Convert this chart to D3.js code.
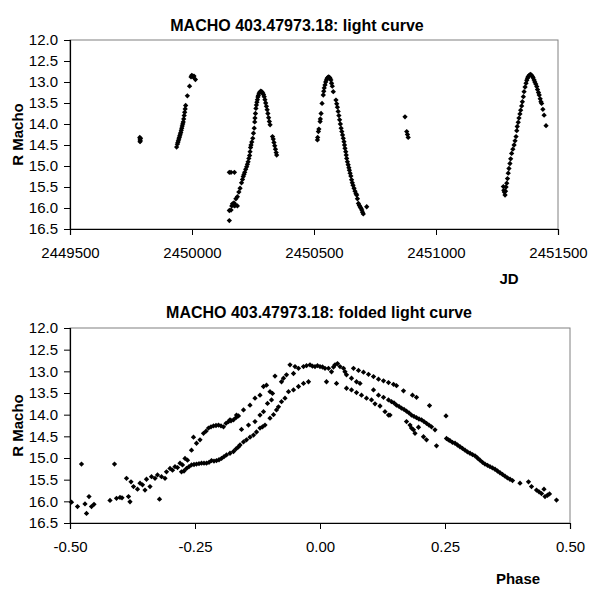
<!DOCTYPE html>
<html><head><meta charset="utf-8">
<script src="https://cdn.jsdelivr.net/npm/d3@7"></script>
<style>
body{margin:0;background:#fff;}
text{font-family:"Liberation Sans",Arial,sans-serif;fill:#000;}
</style></head>
<body><svg id="c" width="600" height="600"></svg>
<script>
// ---- Top chart: light curve (JD, R Macho) ----
const jd = [
2449786,2449787,2449788,2449789,2449787,
2449937,2449940,2449942,2449944,2449946,2449948,2449950,2449952,2449954,2449956,2449958,2449960,2449962,2449964,2449966,2449968,2449970,2449972,2449974,2449981,2449990,2449996,2449999,2450002,2450005,2450008,2450014,
2450153,2450153,2450153,2450160,2450174,2450160,2450163,2450166,2450169,2450172,2450175,2450178,2450186,
2450180,2450186,2450192,2450197,2450203,2450207,2450210,2450213,2450216,2450220,2450224,2450227,2450230,2450233,2450236,2450238,2450240,2450242,2450245,2450249,2450252,2450255,2450257,2450258,2450260,2450262,2450264,2450266,2450268,2450270,2450272,2450275,2450278,2450282,2450286,2450290,2450293,2450296,2450299,2450302,2450305,2450308,2450311,2450314,2450317,2450320,2450330,2450333,2450336,2450339,2450342,2450345,2450347,
2450514,2450515,2450518,2450520,2450525,2450526,2450529,2450533,2450538,2450540,2450542,2450545,2450548,2450551,2450554,2450557,2450560,2450563,2450566,2450569,2450572,2450575,2450579,2450590,2450593,2450596,2450599,2450602,2450605,2450608,2450611,2450614,2450617,2450620,2450623,2450625,2450627,2450630,2450632,2450634,2450637,2450640,2450643,2450645,2450648,2450651,2450654,2450657,2450660,2450664,2450668,2450672,2450675,2450678,2450682,2450686,2450690,2450693,2450696,2450699,2450702,2450716,
2450873,2450880,2450883,2450886,
2451276,2451278,2451280,2451283,2451285,2451287,2451290,2451293,2451296,2451299,2451303,2451306,2451310,2451315,2451320,2451324,2451328,2451331,2451333,2451337,2451340,2451344,2451347,2451351,2451354,2451358,2451361,2451365,2451369,2451372,2451375,2451378,2451382,2451385,2451388,2451392,2451395,2451398,2451402,2451405,2451409,2451413,2451416,2451420,2451423,2451427,2451430,2451433,2451438,2451443,2451451
];
const magLC = [
14.32,14.36,14.40,14.34,14.42,
14.55,14.48,14.44,14.40,14.36,14.32,14.28,14.24,14.20,14.15,14.10,14.05,14.00,13.95,13.88,13.80,13.72,13.64,13.56,13.33,13.10,12.88,12.84,12.86,12.88,12.86,12.94,
16.30,15.15,16.06,15.15,15.15,16.05,15.95,15.90,15.93,15.88,15.95,15.92,15.95,
15.78,15.73,15.62,15.53,15.40,15.32,15.25,15.20,15.15,15.08,15.02,14.96,14.90,14.82,14.75,14.66,14.56,14.50,14.43,14.34,14.22,14.10,13.95,13.86,13.75,13.63,13.55,13.48,13.42,13.36,13.32,13.27,13.24,13.22,13.23,13.26,13.30,13.35,13.42,13.50,13.58,13.66,13.75,13.85,13.94,14.02,14.30,14.36,14.44,14.52,14.60,14.68,14.74,
14.38,14.32,14.18,14.12,13.94,13.88,13.75,13.51,13.31,13.22,13.14,13.07,13.00,12.95,12.91,12.89,12.88,12.89,12.91,12.95,13.03,13.10,13.23,13.43,13.52,13.60,13.70,13.80,13.90,14.00,14.10,14.18,14.26,14.34,14.42,14.50,14.58,14.66,14.74,14.82,14.90,14.97,15.04,15.10,15.17,15.24,15.33,15.40,15.46,15.53,15.60,15.66,15.69,15.78,15.89,15.94,15.98,16.01,16.05,16.10,16.14,15.97,
13.83,14.18,14.25,14.32,
15.49,15.58,15.62,15.69,15.60,15.50,15.41,15.30,15.17,15.06,14.94,14.83,14.70,14.60,14.50,14.40,14.30,14.16,14.06,13.96,13.86,13.76,13.67,13.57,13.47,13.35,13.23,13.12,13.03,12.96,12.91,12.87,12.84,12.83,12.82,12.84,12.87,12.90,12.95,13.00,13.05,13.11,13.18,13.25,13.31,13.40,13.47,13.51,13.65,13.79,14.04
];
const jdTicks = [2449500,2450000,2450500,2451000,2451500];
const magTicks = [12.0,12.5,13.0,13.5,14.0,14.5,15.0,15.5,16.0,16.5];

// ---- Bottom chart: folded light curve (Phase, R Macho) ----
const phase = [
-0.497,-0.485,-0.477,-0.470,-0.467,-0.462,-0.457,-0.452,-0.420,-0.411,-0.407,-0.400,-0.396,-0.387,-0.383,-0.380,-0.378,-0.373,-0.365,-0.360,-0.355,-0.350,-0.347,-0.340,-0.337,-0.330,-0.321,-0.325,-0.317,-0.310,-0.307,-0.300,-0.290,-0.280,-0.270,
-0.295,-0.285,-0.275,-0.265,
-0.277,-0.267,-0.257,-0.247,-0.237,-0.227,-0.217,-0.207,-0.197,-0.187,-0.173,-0.163,
-0.272,-0.262,-0.252,-0.242,-0.232,-0.222,-0.212,-0.202,-0.192,-0.180,-0.168,
-0.257,-0.253,-0.247,-0.240,-0.233,-0.223,-0.213,-0.203,-0.193,-0.183,-0.173,-0.163,
-0.228,-0.218,-0.208,-0.198,-0.188,-0.178,-0.168,
-0.160,-0.147,-0.133,-0.120,-0.110,-0.100,-0.087,-0.083,-0.070,-0.063,-0.053,-0.043,-0.033,-0.023,
-0.153,-0.140,-0.127,-0.115,-0.093,-0.077,
-0.157,-0.143,-0.130,-0.120,-0.113,-0.105,-0.097,
-0.180,-0.167,-0.153,-0.140,-0.130,-0.120,-0.113,-0.107,-0.100,-0.095,-0.090,-0.077,-0.073,-0.067,-0.060,-0.053,-0.050,-0.043,-0.033,-0.020,-0.010,0.000,0.010,0.017,0.023,0.030,0.035,0.040,0.047,0.050,
-0.027,-0.015,-0.005,0.005,0.027,
0.013,0.033,
0.067,0.077,0.087,0.097,0.107,0.117,0.127,0.137,0.147,0.153,0.167,0.185,0.193,0.219,0.252,
0.053,0.063,0.073,0.080,0.107,0.117,0.127,0.137,0.143,0.153,0.163,0.173,0.183,0.193,0.203,0.213,0.223,0.230,
0.148,0.158,0.168,0.178,0.188,0.198,0.208,0.218,
0.053,0.063,0.073,0.083,0.093,0.103,0.110,0.120,0.130,0.137,
0.140,0.173,0.180,0.183,0.187,0.190,0.197,0.207,0.213,0.233,
0.253,0.260,0.270,0.280,0.290,0.300,0.310,0.320,0.330,0.340,0.350,0.360,0.370,0.380,0.400,0.417,0.423,0.433,0.443,0.450,0.448,0.459,0.473,
0.257,0.265,0.275,0.285,0.295,0.305,0.315,0.325,0.335,0.345,0.355,0.365,0.375,0.385,0.438,0.455
];
const magFold = [
16.02,16.12,15.14,16.06,16.28,15.89,16.12,16.07,15.98,15.14,15.93,15.91,15.92,15.47,15.89,16.01,15.55,15.66,15.72,15.58,15.62,15.74,15.49,15.66,15.43,15.47,15.95,15.39,15.43,15.47,15.32,15.24,15.20,15.12,15.01,
15.28,15.22,15.16,15.05,
15.32,15.24,15.16,15.14,15.12,15.12,15.06,15.06,15.01,14.93,14.85,14.74,
15.30,15.20,15.15,15.13,15.12,15.10,15.07,15.04,14.97,14.89,14.79,
14.82,14.52,14.66,14.58,14.43,14.31,14.26,14.24,14.28,14.16,14.12,14.03,
14.38,14.28,14.25,14.26,14.20,14.14,14.07,
14.70,14.58,14.47,14.31,14.24,14.08,13.89,13.82,13.62,13.47,13.43,13.35,13.28,13.24,
14.63,14.52,14.40,14.28,14.00,13.70,
14.34,14.24,14.16,14.01,13.93,13.74,13.66,
14.12,14.01,13.89,13.78,13.62,13.55,13.35,13.32,13.47,13.51,13.11,13.24,13.16,13.08,12.85,13.05,12.89,12.93,12.89,12.85,12.89,12.89,12.93,12.93,13.01,12.85,12.82,12.89,12.93,13.01,
12.87,12.88,12.87,12.90,12.90,
13.24,13.28,
12.93,12.98,13.02,13.07,13.12,13.18,13.22,13.26,13.30,13.33,13.45,13.55,13.60,13.79,14.03,
13.08,13.16,13.24,13.28,13.43,13.55,13.60,13.66,13.70,13.78,13.85,13.92,14.01,14.07,14.12,14.20,14.28,14.35,
13.73,13.81,13.88,13.96,14.04,14.10,14.16,14.24,
13.39,13.43,13.49,13.55,13.62,13.66,13.75,13.80,13.93,14.01,
14.01,14.16,14.24,14.31,14.35,14.43,14.29,14.51,14.58,14.72,
14.55,14.60,14.66,14.74,14.82,14.89,14.95,15.05,15.14,15.20,15.26,15.34,15.42,15.49,15.58,15.55,15.66,15.74,15.82,15.89,15.72,15.83,15.97,
14.58,14.64,14.70,14.78,14.86,14.92,15.00,15.10,15.17,15.23,15.30,15.38,15.46,15.52,15.78,15.86
];
const phaseTicks = [-0.50,-0.25,0.00,0.25,0.50];

const svg = d3.select("#c");
const marker = d3.symbol().type(d3.symbolSquare).size(14);

function panel(o){
  const g = svg.append("g");
  const x = d3.scaleLinear().domain(o.xdom).range([o.x0,o.x1]);
  const y = d3.scaleLinear().domain([12,16.5]).range([o.y0,o.y1]);
  g.append("rect").attr("x",o.x0).attr("y",o.y0).attr("width",o.x1-o.x0).attr("height",o.y1-o.y0)
    .attr("fill","none").attr("stroke","#808080").attr("stroke-width",1);
  const ya = g.append("g").attr("transform",`translate(${o.x0},0)`)
    .call(d3.axisLeft(y).tickValues(magTicks).tickSize(6).tickPadding(6).tickFormat(d3.format(".1f")));
  const xa = g.append("g").attr("transform",`translate(0,${o.y1})`)
    .call(d3.axisBottom(x).tickValues(o.xticks).tickSize(6).tickPadding(12).tickFormat(o.fmt));
  [ya,xa].forEach(a=>{
    a.selectAll("text").style("font-size","15px").style("font-family","Liberation Sans, Arial, sans-serif").attr("fill","#000");
    a.selectAll("line").attr("stroke","#000");
    a.select(".domain").attr("stroke","#000").attr("stroke-width",1.2);
  });
  g.selectAll("path.pt").data(o.xs).enter().append("path").attr("class","pt")
    .attr("d",marker)
    .attr("transform",(d,i)=>`translate(${x(d)},${y(o.ys[i])}) rotate(45)`)
    .attr("fill","#000");
  g.append("text").attr("x",o.tx).attr("y",o.ty).attr("text-anchor","middle")
    .style("font-size","16px").style("font-weight","bold").text(o.title);
  g.append("text").attr("transform",`translate(23,${(o.y0+o.y1)/2}) rotate(-90)`).attr("text-anchor","middle")
    .style("font-size","15px").style("font-weight","bold").text("R Macho");
  g.append("text").attr("x",o.lx).attr("y",o.ly).attr("text-anchor","middle")
    .style("font-size","15px").style("font-weight","bold").text(o.xlabel);
}

panel({x0:70,x1:558,y0:40,y1:229,xdom:[2449500,2451500],xticks:jdTicks,fmt:d3.format("d"),
  xs:jd,ys:magLC,title:"MACHO 403.47973.18: light curve",tx:297,ty:31,xlabel:"JD",lx:509,ly:284});
panel({x0:70,x1:570,y0:328,y1:523,xdom:[-0.5,0.5],xticks:phaseTicks,fmt:d=>d3.format(".2f")(d).replace("\u2212","-"),
  xs:phase,ys:magFold,title:"MACHO 403.47973.18: folded light curve",tx:319,ty:318,xlabel:"Phase",lx:518,ly:584});
</script></body></html>
